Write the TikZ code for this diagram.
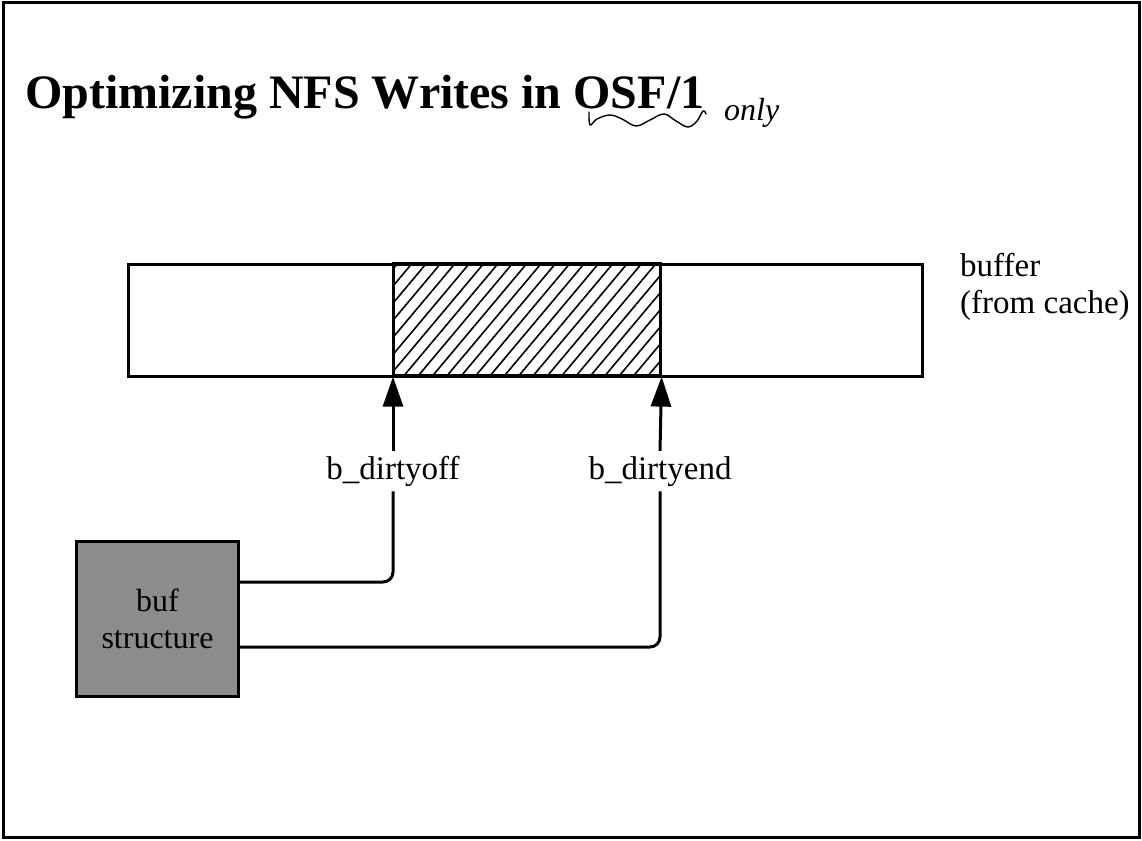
\documentclass[tikz,border=0pt]{standalone}
\usepackage{fontspec}
\setmainfont{Liberation Serif}
\usetikzlibrary{arrows.meta,patterns.meta}
\begin{document}
\begin{tikzpicture}[x=1pt,y=-1pt,
  thick3/.style={line width=3pt},
  boxstyle/.style={draw, line width=3pt, inner sep=0pt, anchor=north west},
  lbl/.style={font=\fontsize{33}{37}\selectfont, inner sep=5pt, anchor=base},
  conn/.style={line width=3pt, rounded corners=10pt},
  arr/.style={line width=3pt, -{Triangle[length=30pt,width=20pt]}}
]
\useasboundingbox (0,0) rectangle (1142,840);
% frame
\draw[thick3] (3,3) rectangle (1139,837);
% title
\node[anchor=base west, inner sep=0pt, font=\bfseries\fontsize{48}{52}\selectfont] (title) at (25,109) {Optimizing NFS Writes in OSF/1};
% handwritten annotation
\draw[line width=1.4pt, line cap=round, line join=round]
  plot[smooth, tension=0.6] coordinates {(589,112) (590,125) (597,119) (610,115) (622,119) (636,126) (650,120) (664,114) (676,121) (688,127) (697,121) (703,111) (706,114)};
\node[anchor=base west, inner sep=0pt, font=\itshape\fontsize{32}{34}\selectfont] (only) at (724,121) {only};
% buffer
\node[boxstyle, minimum width=794pt, minimum height=112pt] (buffer) at (127,263) {};
\node[boxstyle, minimum width=267pt, minimum height=112pt,
  pattern={Lines[angle=50,distance=11pt,line width=1.6pt]}] (dirty) at (393,263) {};
\node[anchor=base west, inner sep=0pt, align=left, font=\fontsize{33}{37}\selectfont] (buflbl) at (960,313) {buffer\\(from cache)};
% labels
\node[lbl] (lo) at (393,479) {b\_dirtyoff};
\node[lbl] (le) at (660,479) {b\_dirtyend};
\draw[arr] (lo.north) -- (dirty.south west);
\draw[arr] (le.north) -- (dirty.south east);
% buf structure
\node[boxstyle, minimum width=162pt, minimum height=155pt, fill=black!45] (bs) at (75,540) {};
\node[align=center, font=\fontsize{32}{37}\selectfont, inner sep=0pt] (bstext) at (bs.center) {buf\\structure};
\draw[conn] ([yshift=-42pt]bs.north east) -| (lo.south);
\draw[conn] ([yshift=-107pt]bs.north east) -| (le.south);
\end{tikzpicture}
\end{document}
